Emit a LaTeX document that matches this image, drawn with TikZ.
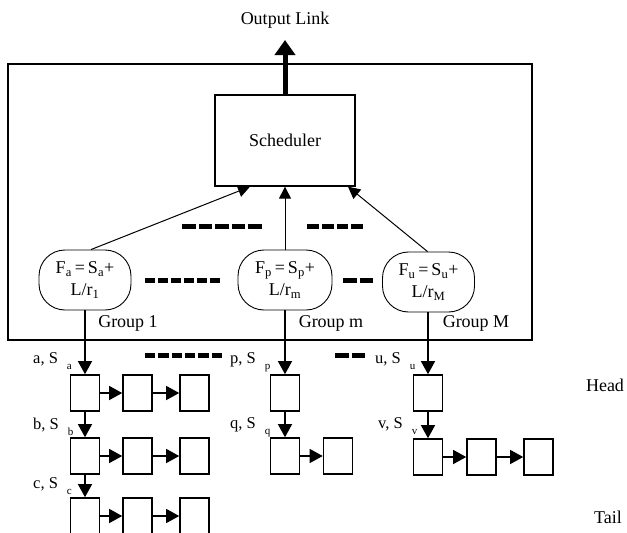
\documentclass[tikz,border=0pt]{standalone}
\usepackage{fontspec}
\setmainfont{Liberation Serif}
\usetikzlibrary{arrows.meta}

% queue label: "x, S" with a lowered subscript
\newcommand\qlab[2]{#1, S\hspace{9pt}\raisebox{-6pt}{\fontsize{11}{11}\selectfont #2}}

\tikzset{
  txt/.style={font=\fontsize{18}{20}\selectfont, inner sep=0pt},
  qtxt/.style={font=\fontsize{16.5}{18}\selectfont, inner sep=0pt, anchor=base west},
  frame/.style={draw, line width=1.3pt, inner sep=0pt},
  grpbox/.style={draw, line width=0.9pt, rounded corners=26pt, minimum width=92, minimum height=60,
                 inner sep=0pt, align=center, font=\fontsize{18}{22}\selectfont},
  cell/.style={draw, line width=1.6pt, minimum width=29, minimum height=36, inner sep=0pt},
  link/.style={line width=1.3pt, -{Triangle[length=13pt,width=14pt]}},
  feed/.style={line width=1pt, -{Triangle[length=12pt,width=12pt]}},
  dashbar/.style={line width=5pt, dash pattern=on #1 off 3pt}
}

\begin{document}
\begin{tikzpicture}[x=1pt,y=-1pt]
\useasboundingbox (0,0) rectangle (627,533);
\clip (0,0) rectangle (627,533);

% outer system frame and scheduler
\node[frame, minimum width=524, minimum height=276] (sys) at (270,202) {};
\node[frame, minimum width=140, minimum height=91, txt] (sched) at (285,140.5) {Scheduler};
\node[txt] (out) at (285,20) {Output Link};
\coordinate (otip) at (285,40);
\draw[line width=5pt, -{Triangle[length=15pt,width=20pt]}] (sched.north) -- (otip);

% group nodes
\node[grpbox] (g1) at (85,280) {F\textsubscript{a}\,=\,S\textsubscript{a}+\\L/r\textsubscript{1}};
\node[grpbox, minimum width=94] (gm) at (285,280) {F\textsubscript{p}\,=\,S\textsubscript{p}+\\L/r\textsubscript{m}};
\node[grpbox] (gM) at (428.5,282) {F\textsubscript{u}\,=\,S\textsubscript{u}+\\L/r\textsubscript{M}};

\node[txt] (l1) at (128,323) {Group 1};
\node[txt] (lm) at (331,323) {Group m};
\node[txt] (lM) at (476,323) {Group M};

% groups feeding the scheduler
\draw[feed] ([xshift=6pt]g1.north) -- ([xshift=-35pt]sched.south);
\draw[feed] (gm.north) -- (sched.south);
\draw[feed] ([xshift=-1pt]gM.north) -- ([xshift=63pt]sched.south);

% ellipsis bars
\draw[dashbar=13.6pt] (182,226) -- (262,226);
\draw[dashbar=11.75pt] (307,226) -- (363,226);
\draw[dashbar=10pt] (145,280) -- (220,280);
\draw[dashbar=13.5pt] (343,280) -- (373,280);
\draw[dashbar=10.3pt] (145,355) -- (222,355);
\draw[dashbar=13.5pt] (335,355) -- (365,355);

% queues of group 1
\node[cell] (a1) at (85,393) {};
\node[cell] (a2) at (137.5,393) {};
\node[cell] (a3) at (194.5,393) {};
\node[cell] (b1) at (85,456) {};
\node[cell] (b2) at (137.5,456) {};
\node[cell] (b3) at (194.5,456) {};
\node[cell] (c1) at (85,516) {};
\node[cell] (c2) at (137.5,516) {};
\node[cell] (c3) at (194.5,516) {};

% queues of group m
\node[cell] (p1) at (285,393) {};
\node[cell] (q1) at (285,456) {};
\node[cell] (q2) at (338,456) {};

% queues of group M
\node[cell] (u1) at (428,393) {};
\node[cell] (v1) at (428,457) {};
\node[cell] (v2) at (481.5,457) {};
\node[cell] (v3) at (538.5,457) {};

% head-of-line pointers
\draw[link] (g1.south) -- (a1.north);
\draw[link] (a1.south) -- (b1.north);
\draw[link] (b1.south) -- (c1.north);
\draw[link] (gm.south) -- (p1.north);
\draw[link] (p1.south) -- (q1.north);
\draw[link] ([xshift=-0.5pt]gM.south) -- (u1.north);
\draw[link] (u1.south) -- (v1.north);

% packets within each flow
\draw[link] (a1) -- (a2);
\draw[link] (a2) -- (a3);
\draw[link] (b1) -- (b2);
\draw[link] (b2) -- (b3);
\draw[link] (c1) -- (c2);
\draw[link] (c2) -- (c3);
\draw[link] (q1) -- (q2);
\draw[link] (v1) -- (v2);
\draw[link] (v2) -- (v3);

% flow labels
\node[qtxt] (la) at (33,363) {\qlab{a}{a}};
\node[qtxt] (lb) at (33,429) {\qlab{b}{b}};
\node[qtxt] (lc) at (33,488) {\qlab{c}{c}};
\node[qtxt] (lp) at (230,363) {\qlab{p}{p}};
\node[qtxt] (lq) at (230,428) {\qlab{q}{q}};
\node[qtxt] (lu) at (375,363) {\qlab{u}{u}};
\node[qtxt] (lv) at (378,428) {\qlab{v}{v}};

\node[txt] (head) at (605,385) {Head};
\node[txt] (tail) at (608,517) {Tail};
\end{tikzpicture}
\end{document}
